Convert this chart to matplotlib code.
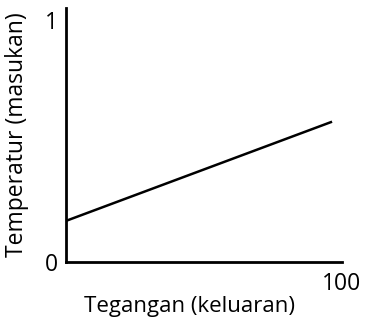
import matplotlib
matplotlib.use("Agg")
import matplotlib.pyplot as plt

# Linear relation between output voltage and input temperature
voltage = [0, 96.4]
temperature = [0.17, 0.58]
x_ticks = [100]
y_ticks = [0, 1]

plt.rcParams['font.family'] = ['Open Sans', 'DejaVu Sans']

fig = plt.figure(figsize=(3.68, 3.22), dpi=100)
ax = fig.add_axes([66/368, 60/322, (342-66)/368, (262-8)/322])

ax.plot(voltage, temperature, color='black', linewidth=1.8, solid_capstyle='butt')

ax.set_xlim(0, 100)
ax.set_ylim(0, 1.05)

for side in ('top', 'right'):
    ax.spines[side].set_visible(False)
for side in ('left', 'bottom'):
    ax.spines[side].set_linewidth(2)

ax.set_xticks(x_ticks)
ax.set_xticklabels([str(t) for t in x_ticks], fontsize=16.5)
ax.set_yticks(y_ticks)
ax.set_yticklabels([str(t) for t in y_ticks], fontsize=16.5)
ax.tick_params(axis='x', length=0, pad=7)
ax.tick_params(axis='y', length=0, pad=6)

ax.set_xlabel('Tegangan (keluaran)', fontsize=16)
ax.set_ylabel('Temperatur (masukan)', fontsize=16.5)
ax.xaxis.set_label_coords(0.449, -0.135)
ax.yaxis.set_label_coords(-0.135, 0.5)

fig.savefig('out.png', dpi=100)
